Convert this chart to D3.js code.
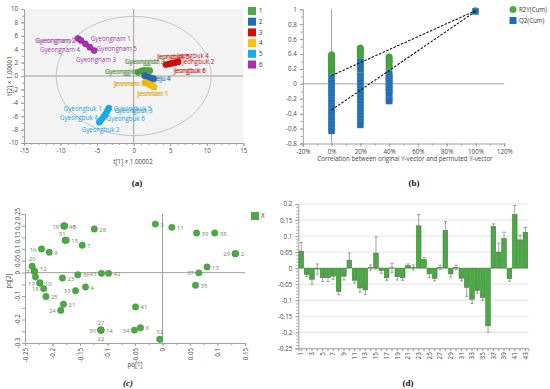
<!DOCTYPE html>
<html>
<head>
<meta charset="utf-8">
<script src="https://cdn.jsdelivr.net/npm/d3@7"></script>
<style>
  body { margin: 0; background: #fff; }
  svg { display: block; font-family: "Open Sans", sans-serif; }
</style>
</head>
<body>
<svg id="fig" width="550" height="389"></svg>
<script>
// ---------- (a) OPLS-DA score plot ----------
const groups = ["1", "2", "3", "4", "5", "6"];
const group1Scores = [[0.6, 0.55], [1.0, 0.75], [1.4, 0.85], [1.8, 0.85], [2.2, 0.8]];
const group2Scores = [[1.5, 0.05], [1.8, -0.1], [2.1, -0.2], [2.4, -0.3], [2.7, -0.4]];
const group3Scores = [[4.4, 1.7], [4.9, 1.8], [5.3, 1.9], [5.7, 2.0], [6.1, 2.1]];
const group4Scores = [[1.6, -0.95], [1.9, -1.1], [2.2, -1.3], [2.5, -1.45], [2.8, -1.65]];
const group5Scores = [[-3.4, -4.8], [-3.6, -5.2], [-3.85, -5.7], [-4.1, -6.1], [-4.4, -6.5], [-4.7, -6.9]];
const group6Scores = [[-7.6, 5.6], [-7.2, 5.3], [-6.6, 4.8], [-6.0, 4.3], [-5.4, 3.8]];
const ellipseRadii = [10.6, 8.9]; // Hotelling T2 (95%)

// sample labels: text, group
const scoreLabelText = [
  ["Gyeongnam 2", 6], ["Gyeongnam 1", 6], ["Gyeongnam 4", 6], ["Gyeongnam 5", 6], ["Gyeongnam 3", 6],
  ["Jeongbuk 5", 3], ["Jeongbuk 4", 3], ["Jeongbuk 2", 3], ["Jeongbuk 6", 3],
  ["Gyeonggido 3", 1], ["Gyeonggido 2", 1],
  ["Jeju 4", 2],
  ["Jeonnam 3", 4], ["Jeonnam 1", 4],
  ["Gyeongbuk 1", 5], ["Gyeongbuk 5", 5], ["Gyeongbuk 3", 5], ["Gyeongbuk 4", 5], ["Gyeongbuk 6", 5], ["Gyeongbuk 2", 5]
];

// ---------- (b) permutation test ----------
const permCorr = [0, 0.2, 0.4];
const r2yPerm = [
  [0.39, 0.37, 0.35, 0.33, 0.31, 0.29, 0.27, 0.25, 0.23, 0.21, 0.19, 0.17, 0.15, 0.13, 0.12],
  [0.48, 0.46, 0.44, 0.42, 0.39, 0.36, 0.33, 0.3, 0.27, 0.24, 0.21, 0.18, 0.15, 0.13, 0.11],
  [0.36, 0.34, 0.32, 0.3, 0.28, 0.25, 0.22, 0.2]
];
const q2Perm = [
  [0.07, 0.04, 0.01, -0.02, -0.05, -0.08, -0.11, -0.14, -0.17, -0.21, -0.25, -0.29, -0.32, -0.36, -0.39, -0.42, -0.46, -0.5, -0.53, -0.57, -0.6, -0.63],
  [0.29, 0.26, 0.23, 0.2, 0.1, 0.07, 0.04, 0.01, -0.03, -0.07, -0.11, -0.15, -0.19, -0.23, -0.27, -0.31, -0.35, -0.39, -0.43, -0.47, -0.51, -0.55],
  [0.13, 0.1, 0.07, 0.04, 0.01, -0.02, -0.05, -0.08, -0.11, -0.14, -0.21, -0.23]
];
const r2yOriginal = 0.98, q2Original = 0.97;
const r2yIntercept = 0.11, q2Intercept = -0.35;

// ---------- (c) loading plot ----------
const pqNames = ["3", "11", "39", "38", "29", "2", "13", "37", "35", "41", "8", "34", "32",
  "27", "30", "14", "22", "18", "40", "5", "31", "15", "28", "1", "16", "9", "20", "7", "12", "26",
  "19", "10", "18", "25", "23", "36", "43", "42", "33", "4", "21", "24"];
const pq1 = [-0.013, 0.017, 0.062, 0.095, 0.132, 0.133, 0.081, 0.066, 0.06, -0.049, -0.04, -0.051, -0.005,
  -0.112, -0.112, -0.112, -0.112, -0.179, -0.179, -0.178, -0.177, -0.175, -0.124, -0.146, -0.22, -0.206, -0.237, -0.233, -0.233, -0.231,
  -0.223, -0.223, -0.216, -0.212, -0.182, -0.154, -0.111, -0.098, -0.158, -0.14, -0.18, -0.185];
const pq2 = [0.207, 0.193, 0.169, 0.169, 0.081, 0.081, 0.024, -0.001, -0.054, -0.146, -0.235, -0.245, -0.284,
  -0.245, -0.245, -0.245, -0.245, 0.199, 0.199, 0.199, 0.138, 0.138, 0.186, 0.117, 0.101, 0.087, 0.027, 0.006, 0.006, -0.018,
  -0.044, -0.044, -0.068, -0.102, -0.023, -0.009, -0.003, -0.003, -0.077, -0.061, -0.135, -0.161];
const pqLabelSide = ["r", "r", "r", "r", "l", "r", "r", "l", "r", "r", "r", "l", "t",
  "t", "l", "r", "b", "l", "r", "r2", "tl", "r", "r", "r", "l", "r", "t", "l", "tr", "",
  "l", "r", "l", "r", "r", "r", "l", "r", "l", "r", "r", "l"];

// ---------- (d) coefficient plot ----------
const coefIds = d3.range(1, 44);
const coefValues = [0.053, -0.02, -0.035, -0.003, -0.03, -0.03, -0.025, -0.073, -0.025, 0.025,
  -0.038, -0.062, -0.068, 0.002, 0.047, -0.008, -0.03, 0.001, -0.027, -0.03,
  0.008, 0.002, 0.132, 0.027, -0.018, -0.032, 0.002, 0.118, -0.018, 0.002,
  -0.032, -0.06, -0.097, -0.07, -0.092, -0.18, 0.13, 0.05, 0.092, -0.033,
  0.167, 0.088, 0.112];
const coefErrors = [0.027, 0.006, 0.015, 0.016, 0.012, 0.012, 0.01, 0.01, 0.012, 0.022,
  0.008, 0.013, 0.015, 0.008, 0.05, 0.008, 0.008, 0.014, 0.01, 0.008,
  0.005, 0.008, 0.035, 0.006, 0.012, 0.008, 0.007, 0.027, 0.01, 0.007,
  0.008, 0.028, 0.013, 0.008, 0.008, 0.02, 0.008, 0.028, 0.02, 0.008,
  0.028, 0.015, 0.015];

// ============ drawing ============
const svg = d3.select("#fig");
const tickFont = 6.2;
const axisGray = "#a0a0a0";
const fmt = (d) => String(+d.toFixed(2));

function styleAxis(g) {
  g.attr("font-size", tickFont).attr("font-family", null);
  g.select(".domain").attr("stroke", axisGray);
  g.selectAll(".tick line").attr("stroke", axisGray);
  g.selectAll(".tick text").attr("fill", "#444");
}
function minorTicks(g, axis, values) {
  g.call(axis.tickValues(values).tickSize(2).tickFormat(""))
    .call((s) => s.select(".domain").remove())
    .selectAll(".tick line").attr("stroke", axisGray);
}

// ----- panel a -----
const groupColor = d3.scaleOrdinal(groups, ["#4caa44", "#1f6db5", "#d40c0c", "#ffc000", "#19aeea", "#a72fb0"]);
const labelColor = d3.scaleOrdinal(groups, ["#4c8c3c", "#1f6db5", "#c21010", "#d9a400", "#1aa0de", "#a03aa8"]);
const xA = d3.scaleLinear([-15, 15], [24, 243.3]);
const yA = d3.scaleLinear([-10, 10], [143, 9]);
const gA = svg.append("g");
gA.append("rect").attr("x", 24).attr("y", 9)
  .attr("width", xA(15) - xA(-15)).attr("height", yA(-10) - yA(10)).attr("fill", "#f3f3f3");
gA.append("line").attr("x1", xA(0)).attr("x2", xA(0)).attr("y1", yA(10)).attr("y2", yA(-10)).attr("stroke", axisGray);
gA.append("line").attr("x1", xA(-15)).attr("x2", xA(15)).attr("y1", yA(0)).attr("y2", yA(0)).attr("stroke", axisGray);
gA.append("ellipse").attr("cx", xA(0)).attr("cy", yA(0))
  .attr("rx", xA(ellipseRadii[0]) - xA(0)).attr("ry", yA(0) - yA(ellipseRadii[1]))
  .attr("fill", "none").attr("stroke", "#c4c4c4").attr("stroke-width", 1);
gA.append("g").attr("transform", `translate(0,${yA(-10)})`)
  .call(d3.axisBottom(xA).tickValues(d3.range(-15, 16, 5)).tickSize(3).tickFormat(fmt)).call(styleAxis);
gA.append("g").attr("transform", `translate(0,${yA(-10)})`)
  .call((g) => minorTicks(g, d3.axisBottom(xA), d3.range(-15, 16, 1)));
gA.append("g").attr("transform", `translate(${xA(-15)},0)`)
  .call(d3.axisLeft(yA).tickValues(d3.range(-10, 11, 2)).tickSize(3).tickFormat(fmt)).call(styleAxis);
gA.append("g").attr("transform", `translate(${xA(-15)},0)`)
  .call((g) => minorTicks(g, d3.axisLeft(yA), d3.range(-10, 11, 1)));

const scoreSets = [group1Scores, group2Scores, group3Scores, group4Scores, group5Scores, group6Scores];
const scorePts = scoreSets.flatMap((s, i) => s.map(([t1, t2]) => ({ t1, t2, g: groups[i] })));
gA.append("g").selectAll("circle").data(scorePts).join("circle")
  .attr("cx", (d) => xA(d.t1)).attr("cy", (d) => yA(d.t2)).attr("r", 3.1)
  .attr("fill", (d) => groupColor(d.g))
  .attr("stroke", (d) => d3.color(groupColor(d.g)).darker(0.4)).attr("stroke-width", 0.5);

// label placement in score units: [t1, t2, anchor, doubled]
const scoreLabelPos = [
  [-8.0, 5.2, "end", true], [-5.86, 5.6, "start", false], [-7.33, 3.9, "end", false], [-5.04, 4.0, "start", false], [-7.88, 2.4, "start", false],
  [3.17, 2.9, "start", true], [5.92, 3.0, "start", false], [6.64, 2.1, "start", false], [5.41, 0.75, "start", true],
  [-1.26, 2.05, "start", true], [-4.0, 0.65, "start", true],
  [2.81, -0.35, "start", true],
  [-2.77, -1.2, "start", true], [0.44, -2.7, "start", true],
  [-4.36, -4.85, "end", false], [-2.77, -4.85, "start", false], [-2.6, -5.25, "start", false], [-4.9, -6.3, "end", false], [-3.67, -6.45, "start", false], [-7.1, -8.05, "start", false]
];
const gLab = gA.append("g").attr("font-size", 6.2);
scoreLabelText.forEach(([text, g], i) => {
  const [t1, t2, anchor, doubled] = scoreLabelPos[i];
  const offsets = doubled ? [0, 1.2] : [0];
  offsets.forEach((o) => {
    gLab.append("text").attr("x", xA(t1) + o).attr("y", yA(t2)).attr("dy", "0.35em")
      .attr("text-anchor", anchor).attr("fill", labelColor(String(g)))
      .attr("opacity", doubled ? 0.8 : 1).text(text);
  });
});
// legend a
const legA = gA.append("g").attr("font-size", 6.2);
groups.forEach((gname, i) => {
  legA.append("rect").attr("x", 248).attr("y", 7 + i * 10.7).attr("width", 8).attr("height", 8)
    .attr("fill", groupColor(gname));
  legA.append("text").attr("x", 259).attr("y", 11 + i * 10.7).attr("dy", "0.35em").attr("fill", "#333").text(gname);
});
gA.append("text").attr("x", 133).attr("y", 162).attr("dy", "0.35em").attr("text-anchor", "middle")
  .attr("font-size", 6.2).attr("fill", "#444").text("t[1] × 1.00002");
gA.append("text").attr("transform", "translate(10,76) rotate(-90)").attr("dy", "0.35em").attr("text-anchor", "middle")
  .attr("font-size", 6.2).attr("fill", "#444").text("t[2] × 1.00001");

// ----- panel b -----
const xB = d3.scaleLinear([-0.2, 1.2], [302.8, 504.2]);
const yB = d3.scaleLinear([-0.8, 1], [143.5, 9.2]);
const gB = svg.append("g");
gB.append("line").attr("x1", xB(0)).attr("x2", xB(0)).attr("y1", yB(1)).attr("y2", yB(-0.8)).attr("stroke", axisGray);
gB.append("line").attr("x1", xB(-0.2)).attr("x2", xB(1.2)).attr("y1", yB(0)).attr("y2", yB(0)).attr("stroke", axisGray);
gB.append("g").attr("transform", `translate(0,${yB(-0.8)})`)
  .call(d3.axisBottom(xB).tickValues(d3.range(-0.2, 1.21, 0.2)).tickSize(3).tickFormat((d) => Math.round(d * 100) + "%"))
  .call(styleAxis);
gB.append("g").attr("transform", `translate(0,${yB(-0.8)})`)
  .call((g) => minorTicks(g, d3.axisBottom(xB), d3.range(-0.2, 1.21, 0.1)));
gB.append("g").attr("transform", `translate(${xB(-0.2)},0)`)
  .call(d3.axisLeft(yB).tickValues(d3.range(-0.8, 1.01, 0.2)).tickSize(3).tickFormat(fmt)).call(styleAxis);
gB.append("g").attr("transform", `translate(${xB(-0.2)},0)`)
  .call((g) => minorTicks(g, d3.axisLeft(yB), d3.range(-0.8, 1.01, 0.1)));

const r2yPts = permCorr.flatMap((c, i) => r2yPerm[i].map((v) => [c, v])).concat([[1, r2yOriginal]]);
const q2Pts = permCorr.flatMap((c, i) => q2Perm[i].map((v) => [c, v])).concat([[1, q2Original]]);
const green = "#4caa44", blue = "#1f6db5";
gB.append("g").selectAll("circle").data(r2yPts).join("circle")
  .attr("cx", (d) => xB(d[0])).attr("cy", (d) => yB(d[1])).attr("r", 3.2)
  .attr("fill", green).attr("stroke", "#3d8f37").attr("stroke-width", 0.5);
gB.append("g").selectAll("rect").data(q2Pts).join("rect")
  .attr("x", (d) => xB(d[0]) - 3.2).attr("y", (d) => yB(d[1]) - 3.2).attr("width", 6.4).attr("height", 6.4)
  .attr("fill", blue).attr("stroke", "#5d95cc").attr("stroke-width", 0.3);
[[r2yIntercept, r2yOriginal], [q2Intercept, q2Original]].forEach(([a, b]) => {
  gB.append("line").attr("x1", xB(0)).attr("y1", yB(a)).attr("x2", xB(1)).attr("y2", yB(b))
    .attr("stroke", "#111").attr("stroke-width", 1.1).attr("stroke-dasharray", "2.5,1.5");
});
const legB = gB.append("g").attr("font-size", 6.2).attr("fill", "#333");
legB.append("circle").attr("cx", 513).attr("cy", 9.5).attr("r", 3.5).attr("fill", green);
legB.append("text").attr("x", 519).attr("y", 9.5).attr("dy", "0.35em").text("R2Y(Cum)");
legB.append("rect").attr("x", 509.5).attr("y", 17).attr("width", 7).attr("height", 7).attr("fill", blue);
legB.append("text").attr("x", 519).attr("y", 20.5).attr("dy", "0.35em").text("Q2(Cum)");
gB.append("text").attr("x", 405).attr("y", 159).attr("dy", "0.35em").attr("text-anchor", "middle")
  .attr("font-size", 6.2).attr("fill", "#444").text("Correlation between original Y-vector and permuted Y-vector");

// ----- panel c -----
const xC = d3.scaleLinear([-0.25, 0.15], [25, 245]);
const yC = d3.scaleLinear([-0.3, 0.25], [343, 214]);
const gC = svg.append("g");
gC.append("line").attr("x1", xC(0)).attr("x2", xC(0)).attr("y1", yC(0.25)).attr("y2", yC(-0.3)).attr("stroke", axisGray);
gC.append("line").attr("x1", xC(-0.25)).attr("x2", xC(0.15)).attr("y1", yC(0)).attr("y2", yC(0)).attr("stroke", axisGray);
gC.append("g").attr("transform", `translate(0,${yC(-0.3)})`)
  .call(d3.axisBottom(xC).tickValues(d3.range(-0.25, 0.151, 0.05)).tickSize(3).tickFormat(fmt))
  .call(styleAxis)
  .call((g) => g.selectAll(".tick text").attr("transform", "rotate(-90)")
    .attr("text-anchor", "end").attr("x", -5).attr("y", 0).attr("dy", "0.35em"));
gC.append("g").attr("transform", `translate(0,${yC(-0.3)})`)
  .call((g) => minorTicks(g, d3.axisBottom(xC), d3.range(-0.25, 0.151, 0.025)));
gC.append("g").attr("transform", `translate(${xC(-0.25)},0)`)
  .call(d3.axisLeft(yC).tickValues(d3.range(-0.3, 0.251, 0.05)).tickSize(3).tickFormat(""))
  .call(styleAxis);
gC.append("g").attr("font-size", tickFont).attr("fill", "#444")
  .selectAll("text").data([0.25, 0.2, 0.15, 0.1, 0.05, 0, -0.1, -0.2, -0.3]).join("text")
  .attr("transform", (d) => `translate(18,${yC(d)}) rotate(-90)`)
  .attr("text-anchor", "middle").attr("dy", "0.35em").text(fmt);

const pqPts = pqNames.map((n, i) => ({ n, x: pq1[i], y: pq2[i], side: pqLabelSide[i] }));
gC.append("g").selectAll("circle").data(pqPts).join("circle")
  .attr("cx", (d) => xC(d.x)).attr("cy", (d) => yC(d.y)).attr("r", 3.2)
  .attr("fill", green).attr("stroke", "#3d8f37").attr("stroke-width", 0.5);
const sideOffset = {
  r: [5, 0.5, "start"], l: [-5, 0.5, "end"], t: [0, -7.5, "middle"], b: [0, 9, "middle"],
  tr: [5.5, -2.5, "start"], tl: [-3, -6, "middle"], r2: [8, 0.5, "start"]
};
gC.append("g").attr("font-size", 6).attr("fill", "#6f8a62")
  .selectAll("text").data(pqPts.filter((d) => d.side)).join("text")
  .attr("x", (d) => xC(d.x) + sideOffset[d.side][0])
  .attr("y", (d) => yC(d.y) + sideOffset[d.side][1])
  .attr("dy", "0.35em").attr("text-anchor", (d) => sideOffset[d.side][2]).text((d) => d.n);
gC.append("rect").attr("x", 251).attr("y", 212).attr("width", 8).attr("height", 8).attr("fill", green);
gC.append("text").attr("x", 261).attr("y", 216).attr("dy", "0.35em").attr("font-size", 6.2).attr("fill", "#333").text("X");
gC.append("text").attr("x", 135).attr("y", 365).attr("dy", "0.35em").attr("text-anchor", "middle")
  .attr("font-size", 6.2).attr("fill", "#444").text("pq[1]");
gC.append("text").attr("transform", "translate(9,281) rotate(-90)").attr("dy", "0.35em").attr("text-anchor", "middle")
  .attr("font-size", 6.2).attr("fill", "#444").text("pq[2]");

// ----- panel d -----
const xD = d3.scaleBand(coefIds, [298.3, 528.4]).padding(0.12);
const yD = d3.scaleLinear([-0.25, 0.2], [348.3, 204]);
const gD = svg.append("g");
gD.append("g").selectAll("line").data(d3.range(-0.25, 0.201, 0.05)).join("line")
  .attr("x1", 298.3).attr("x2", 528.4).attr("y1", yD).attr("y2", yD).attr("stroke", "#e2e2e2");
gD.append("g").attr("transform", `translate(298.3,0)`)
  .call(d3.axisLeft(yD).tickValues(d3.range(-0.25, 0.201, 0.05)).tickSize(3).tickFormat(fmt)).call(styleAxis);
gD.append("g").attr("transform", `translate(298.3,0)`)
  .call((g) => minorTicks(g, d3.axisLeft(yD), d3.range(-0.25, 0.201, 0.01)));
gD.append("g").attr("transform", `translate(0,${yD(-0.25)})`)
  .call(d3.axisBottom(xD).tickSize(3).tickFormat((d) => (d % 2 ? d : "")))
  .call(styleAxis)
  .call((g) => g.selectAll(".tick text").attr("transform", "rotate(-90)")
    .attr("text-anchor", "end").attr("x", -4).attr("y", 0).attr("dy", "0.35em"));
const coefData = coefIds.map((id, i) => ({ id, v: coefValues[i], e: coefErrors[i] }));
gD.append("g").selectAll("rect").data(coefData).join("rect")
  .attr("x", (d) => xD(d.id)).attr("width", xD.bandwidth())
  .attr("y", (d) => yD(Math.max(0, d.v))).attr("height", (d) => Math.abs(yD(d.v) - yD(0)))
  .attr("fill", "#4caa44").attr("stroke", "#2f7d2c").attr("stroke-width", 0.5);
const eb = gD.append("g").attr("stroke", "#7a7a7a").attr("stroke-width", 0.7);
coefData.forEach((d) => {
  const cx = xD(d.id) + xD.bandwidth() / 2;
  eb.append("line").attr("x1", cx).attr("x2", cx).attr("y1", yD(d.v - d.e)).attr("y2", yD(d.v + d.e));
  [d.v - d.e, d.v + d.e].forEach((v) =>
    eb.append("line").attr("x1", cx - 1.6).attr("x2", cx + 1.6).attr("y1", yD(v)).attr("y2", yD(v)));
});

// ----- captions -----
const caps = [["(a)", 137, 185.5, "normal"], ["(b)", 414, 185.5, "normal"], ["(c)", 128, 385.5, "italic"], ["(d)", 408, 385.5, "normal"]];
svg.append("g").attr("font-family", "'Liberation Serif', serif").attr("font-size", 9).attr("font-weight", "bold")
  .selectAll("text").data(caps).join("text")
  .attr("x", (d) => d[1]).attr("y", (d) => d[2]).attr("text-anchor", "middle")
  .attr("font-style", (d) => d[3]).attr("fill", "#111").text((d) => d[0]);
</script>
</body>
</html>
